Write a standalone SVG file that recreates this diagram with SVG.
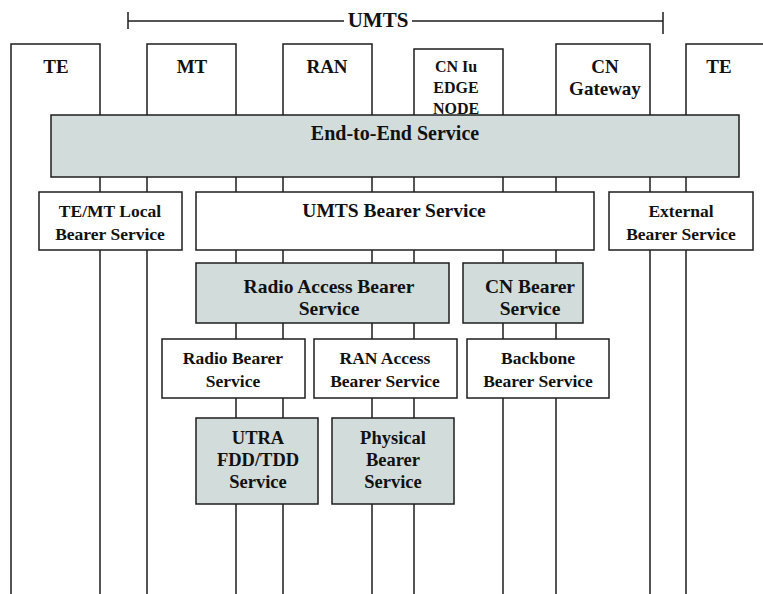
<svg xmlns="http://www.w3.org/2000/svg" width="763" height="594" viewBox="0 0 763 594">
  <style>
    .ln { fill: none; stroke: #1e1e1e; stroke-width: 1.5; }
    .box { fill: #ffffff; stroke: #1e1e1e; stroke-width: 1.5; }
    .gbox { fill: #d2dcdb; stroke: #1e1e1e; stroke-width: 1.5; }
    text { font-family: "Liberation Serif", "Times New Roman", serif; font-weight: bold; fill: #111111; text-anchor: middle; }
    .hd { font-size: 19px; }
    .sm { font-size: 16px; }
    .big { font-size: 19.5px; }
    .md { font-size: 17.5px; }
    .ut { font-size: 18.5px; }
  </style>
  <rect width="763" height="594" fill="#ffffff"/>

  <!-- UMTS span bracket -->
  <g id="umts-span">
    <path class="ln" d="M128,12 V29 M128,21 H344 M412,21 H663 M663,12 V34"/>
    <text x="378" y="27" style="font-size:21px">UMTS</text>
  </g>

  <!-- lifelines running down from each entity -->
  <g id="connectors">
    <path class="ln" d="M11,115 V594 M100,115 V594 M147,115 V594 M236,115 V594 M283,115 V594 M372,115 V594 M414,115 V594 M503,115 V594 M556,115 V594 M650,115 V594 M686,115 V594"/>
  </g>

  <!-- entities -->
  <g id="te-left">
    <path class="ln" d="M11,115 V44 H100 V115"/>
    <text class="hd" x="56" y="73">TE</text>
  </g>
  <g id="mt">
    <path class="ln" d="M147,115 V44 H236 V115"/>
    <text class="hd" x="192" y="73">MT</text>
  </g>
  <g id="ran">
    <path class="ln" d="M283,115 V44 H372 V115"/>
    <text class="hd" x="327" y="73">RAN</text>
  </g>
  <g id="cn-iu-edge">
    <path class="ln" d="M414,115 V49 H503 V115"/>
    <text class="sm" x="456" y="72">CN Iu</text>
    <text class="sm" x="456" y="93">EDGE</text>
    <text class="sm" x="456" y="114">NODE</text>
  </g>
  <g id="cn-gateway">
    <path class="ln" d="M556,115 V44 H650 V115"/>
    <text class="hd" x="605" y="73">CN</text>
    <text class="hd" x="605" y="95">Gateway</text>
  </g>
  <g id="te-right">
    <path class="ln" d="M686,115 V44 H764"/>
    <text class="hd" x="719" y="73">TE</text>
  </g>

  <!-- services -->
  <g id="end-to-end">
    <rect class="gbox" x="51" y="115" width="688" height="62"/>
    <text x="395" y="140" style="font-size:20px">End-to-End Service</text>
  </g>
  <g id="te-mt-local">
    <rect class="box" x="39" y="192" width="143" height="58"/>
    <text class="md" x="110" y="217">TE/MT Local</text>
    <text class="md" x="110" y="240">Bearer Service</text>
  </g>
  <g id="umts-bearer">
    <rect class="box" x="196" y="192" width="398" height="58"/>
    <text class="big" x="394" y="217">UMTS Bearer Service</text>
  </g>
  <g id="external-bearer">
    <rect class="box" x="609" y="192" width="144" height="58"/>
    <text class="md" x="681" y="217">External</text>
    <text class="md" x="681" y="240">Bearer Service</text>
  </g>
  <g id="radio-access-bearer">
    <rect class="gbox" x="196" y="263" width="253" height="60"/>
    <text class="big" x="329" y="293">Radio Access Bearer</text>
    <text class="big" x="329" y="315">Service</text>
  </g>
  <g id="cn-bearer">
    <rect class="gbox" x="463" y="263" width="120" height="60"/>
    <text class="big" x="530" y="293">CN Bearer</text>
    <text class="big" x="530" y="315">Service</text>
  </g>
  <g id="radio-bearer">
    <rect class="box" x="162" y="339" width="143" height="59"/>
    <text class="md" x="233" y="364">Radio Bearer</text>
    <text class="md" x="233" y="387">Service</text>
  </g>
  <g id="ran-access-bearer">
    <rect class="box" x="314" y="339" width="143" height="59"/>
    <text class="md" x="385" y="364">RAN Access</text>
    <text class="md" x="385" y="387">Bearer Service</text>
  </g>
  <g id="backbone-bearer">
    <rect class="box" x="467" y="339" width="142" height="59"/>
    <text class="md" x="538" y="364">Backbone</text>
    <text class="md" x="538" y="387">Bearer Service</text>
  </g>
  <g id="utra-fdd-tdd">
    <rect class="gbox" x="196" y="418" width="122" height="86"/>
    <text class="ut" x="258" y="444">UTRA</text>
    <text class="ut" x="258" y="466">FDD/TDD</text>
    <text class="ut" x="258" y="488">Service</text>
  </g>
  <g id="physical-bearer">
    <rect class="gbox" x="332" y="418" width="122" height="86"/>
    <text class="ut" x="393" y="444">Physical</text>
    <text class="ut" x="393" y="466">Bearer</text>
    <text class="ut" x="393" y="488">Service</text>
  </g>
</svg>
